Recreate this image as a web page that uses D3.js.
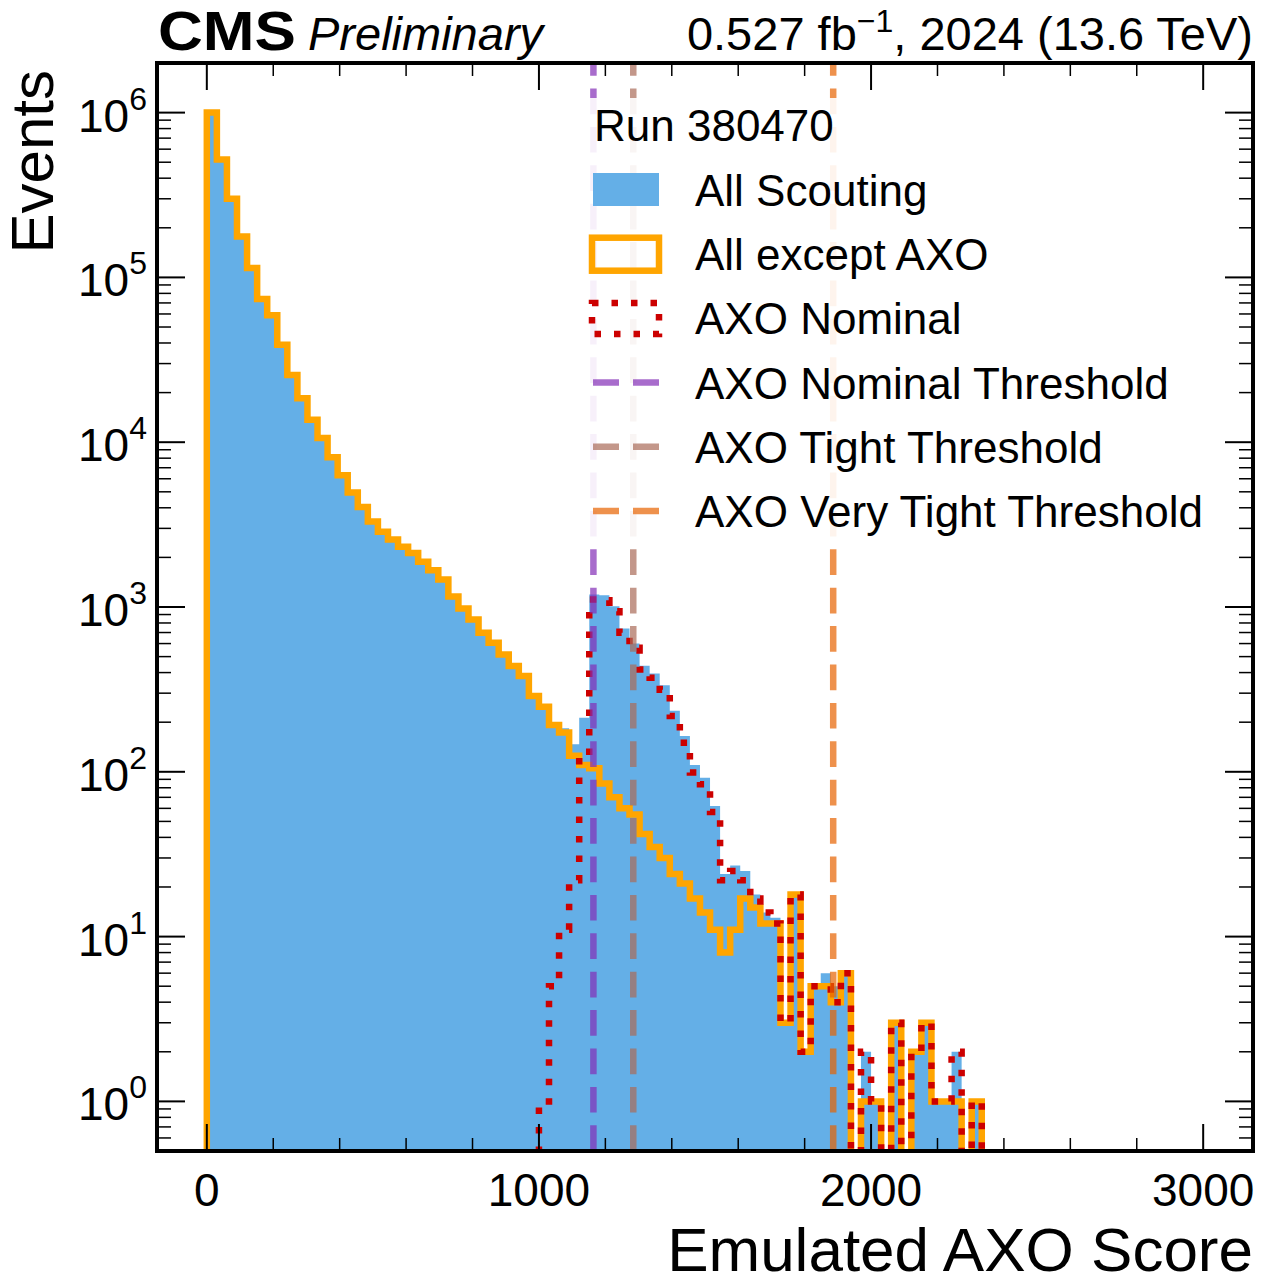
<!DOCTYPE html>
<html>
<head>
<meta charset="utf-8">
<script src="https://cdn.jsdelivr.net/npm/d3@7"></script>
<style>
  body { margin: 0; background: #fff; }
  text { font-family: "Liberation Sans", Arial, Helvetica, sans-serif; fill: #000; }
</style>
</head>
<body>
<svg id="chart" width="1264" height="1284"></svg>
<script>
// histogram binning: 99 equal bins on [0, 3000]
const binRange = [0, 3000];
const nBins = 99;

// counts per bin, starting at bin 0 (bins after the listed ones are empty)
const allExceptAXO = [
  1.0e6, 5.2e5, 3.0e5, 1.77e5, 1.14e5, 7.4e4, 5.9e4, 3.9e4, 2.56e4, 1.85e4,
  1.37e4, 1.06e4, 8100, 6300, 4960, 4050, 3300, 2860, 2570, 2320,
  2130, 1880, 1670, 1470, 1160, 980, 840, 698, 607, 515,
  438, 381, 288, 248, 192, 173, 125, 110, 105, 85,
  70, 60, 55, 42, 35, 30, 24, 21, 17, 14,
  11, 8, 11, 17, 15, 12, 12, 3, 18, 2,
  5, 5, 4, 6, 0, 1, 1, 0, 3, 0,
  2, 3, 1, 1, 1, 0, 1
];

const axoNominal = [
  0, 0, 0, 0, 0, 0, 0, 0, 0, 0,
  0, 0, 0, 0, 0, 0, 0, 0, 0, 0,
  0, 0, 0, 0, 0, 0, 0, 0, 0, 0,
  0, 0, 0, 1, 5, 11, 22, 125, 1110, 1100,
  943, 698, 566, 418, 372, 315, 218, 150, 99, 84,
  57, 22, 25, 22, 17, 14, 12, 3, 18, 2,
  5, 5, 4, 6, 0, 2, 1, 0, 3, 0,
  2, 3, 1, 1, 2, 0, 1
];

const allScouting = [
  1.0e6, 5.2e5, 3.0e5, 1.77e5, 1.14e5, 7.4e4, 5.9e4, 3.9e4, 2.56e4, 1.85e4,
  1.37e4, 1.06e4, 8100, 6300, 4960, 4050, 3300, 2860, 2570, 2320,
  2130, 1880, 1670, 1470, 1160, 980, 840, 698, 607, 515,
  438, 381, 288, 249, 197, 184, 147, 213, 1190, 1180,
  1010, 740, 600, 440, 395, 335, 235, 165, 110, 92,
  62, 24, 27, 25, 18, 14, 13, 3, 18, 2,
  5, 6, 5, 6, 0, 2, 1, 0, 3, 0,
  2, 3, 1, 1, 2, 0, 1
];

const thresholdNames = ['AXO Nominal Threshold', 'AXO Tight Threshold', 'AXO Very Tight Threshold'];
const thresholdValues = [1164, 1284, 1886];

const xMajorTicks = [0, 1000, 2000, 3000];
const yExponents = [0, 1, 2, 3, 4, 5, 6];
const runLabel = 'Run 380470';

// ---------------------------------------------------------------
const plotL = 157, plotR = 1253, plotT = 63, plotB = 1151;
const svg = d3.select('#chart');

const x = d3.scaleLinear().domain([-150, 3150]).range([plotL, plotR]);
const y = d3.scaleLog().domain([0.5, 2e6]).range([plotB, plotT]);

const edges = d3.range(nBins + 1).map(i => binRange[0] + (binRange[1] - binRange[0]) * i / nBins);

svg.append('defs').append('clipPath').attr('id', 'plotclip')
  .append('rect').attr('x', plotL).attr('y', plotT).attr('width', plotR - plotL).attr('height', plotB - plotT);

// step points for a histogram; empty bins drop below the frame
function stepPoints(counts) {
  const pts = [[edges[0], 0]];
  counts.forEach((v, i) => {
    pts.push([edges[i], v]);
    pts.push([edges[i + 1], v]);
  });
  pts.push([edges[counts.length], 0]);
  return pts;
}
const yv = v => v > 0 ? y(v) : plotB + 60;

const plot = svg.append('g').attr('clip-path', 'url(#plotclip)');

// All Scouting: filled
plot.append('path')
  .datum(stepPoints(allScouting))
  .attr('fill', '#64afe7')
  .attr('d', d3.area().x(d => x(d[0])).y0(plotB + 60).y1(d => yv(d[1])));

const stepLine = d3.line().x(d => x(d[0])).y(d => yv(d[1]));

// All except AXO: orange outline
plot.append('path')
  .datum(stepPoints(allExceptAXO))
  .attr('fill', 'none')
  .attr('stroke', '#ffa500')
  .attr('stroke-width', 6.5)
  .attr('stroke-linejoin', 'miter')
  .attr('d', stepLine);

// AXO Nominal: red dotted
plot.append('path')
  .datum(stepPoints(axoNominal))
  .attr('fill', 'none')
  .attr('stroke', '#cc0000')
  .attr('stroke-width', 6.5)
  .attr('stroke-dasharray', '6.5,13')
  .attr('d', stepLine);

// threshold lines
const thrColors = ['#832db6', '#a96b59', '#e76300'];
plot.selectAll('.thr')
  .data(thresholdValues)
  .enter().append('line')
  .attr('class', 'thr')
  .attr('x1', d => x(d)).attr('x2', d => x(d))
  .attr('y1', plotB).attr('y2', plotT)
  .attr('stroke', (d, i) => thrColors[i])
  .attr('stroke-opacity', 0.7)
  .attr('stroke-width', 6.5)
  .attr('stroke-dasharray', '25.7,12.7');

// ticks
const axes = svg.append('g').attr('stroke', '#000');
const xMinor = d3.range(200, 3001, 200).filter(v => !xMajorTicks.includes(v));
[plotB, plotT].forEach(edgeY => {
  const dir = edgeY === plotB ? -1 : 1;
  axes.selectAll(null).data(xMajorTicks).enter().append('line')
    .attr('x1', d => x(d)).attr('x2', d => x(d))
    .attr('y1', edgeY).attr('y2', edgeY + dir * 27).attr('stroke-width', 2);
  axes.selectAll(null).data(xMinor).enter().append('line')
    .attr('x1', d => x(d)).attr('x2', d => x(d))
    .attr('y1', edgeY).attr('y2', edgeY + dir * 13).attr('stroke-width', 1.5);
});
const yMinor = [];
[-1, 0, 1, 2, 3, 4, 5, 6].forEach(e => d3.range(2, 10).forEach(m => {
  const v = m * Math.pow(10, e);
  if (v >= 0.5 && v <= 2e6) yMinor.push(v);
}));
[plotL, plotR].forEach(edgeX => {
  const dir = edgeX === plotL ? 1 : -1;
  axes.selectAll(null).data(yExponents).enter().append('line')
    .attr('y1', d => y(Math.pow(10, d))).attr('y2', d => y(Math.pow(10, d)))
    .attr('x1', edgeX).attr('x2', edgeX + dir * 28).attr('stroke-width', 2);
  axes.selectAll(null).data(yMinor).enter().append('line')
    .attr('y1', d => y(d)).attr('y2', d => y(d))
    .attr('x1', edgeX).attr('x2', edgeX + dir * 14).attr('stroke-width', 1.5);
});

// frame
svg.append('rect')
  .attr('x', plotL).attr('y', plotT).attr('width', plotR - plotL).attr('height', plotB - plotT)
  .attr('fill', 'none').attr('stroke', '#000').attr('stroke-width', 4);

// tick labels
svg.selectAll('.xlab').data(xMajorTicks).enter().append('text')
  .attr('class', 'xlab')
  .attr('x', d => x(d)).attr('y', 1206)
  .attr('text-anchor', 'middle').attr('font-size', 46)
  .text(d => d);

const ylab = svg.selectAll('.ylab').data(yExponents).enter().append('text')
  .attr('class', 'ylab')
  .attr('x', 147).attr('y', d => y(Math.pow(10, d)) + 19)
  .attr('text-anchor', 'end');
ylab.append('tspan').attr('font-size', 46).text('10');
ylab.append('tspan').attr('font-size', 32).attr('dy', -22).text(d => d);

// axis titles
svg.append('text')
  .attr('transform', 'translate(53,70) rotate(-90)')
  .attr('text-anchor', 'end').attr('font-size', 60)
  .text('Events');
svg.append('text')
  .attr('x', plotR).attr('y', 1271)
  .attr('text-anchor', 'end').attr('font-size', 62)
  .text('Emulated AXO Score');

// header
svg.append('text').attr('x', 158).attr('y', 50)
  .attr('font-size', 56).attr('font-weight', 'bold')
  .attr('textLength', 138).attr('lengthAdjust', 'spacingAndGlyphs')
  .text('CMS');
svg.append('text').attr('x', 308).attr('y', 50)
  .attr('font-size', 47).attr('font-style', 'italic').text('Preliminary');
const lumi = svg.append('text').attr('x', plotR).attr('y', 50)
  .attr('text-anchor', 'end').attr('font-size', 47);
lumi.append('tspan').text('0.527 fb');
lumi.append('tspan').attr('font-size', 32).attr('dy', -18).text('\u22121');
lumi.append('tspan').attr('dy', 18).text(', 2024 (13.6 TeV)');

// legend
const lg = svg.append('g');
lg.append('rect').attr('x', 583).attr('y', 98).attr('width', 636).attr('height', 444)
  .attr('fill', '#fff').attr('fill-opacity', 0.9);
lg.append('text').attr('x', 594).attr('y', 141).attr('font-size', 44).text(runLabel);

const legendNames = ['All Scouting', 'All except AXO', 'AXO Nominal'].concat(thresholdNames);
const rowY = i => 190 + i * 64.2;
legendNames.forEach((name, i) => {
  lg.append('text').attr('x', 695).attr('y', rowY(i) + 16).attr('font-size', 44).text(name);
});
lg.append('rect').attr('x', 593).attr('y', rowY(0) - 17).attr('width', 66).attr('height', 33)
  .attr('fill', '#64afe7');
lg.append('rect').attr('x', 592).attr('y', rowY(1) - 16.5).attr('width', 67).attr('height', 33)
  .attr('fill', 'none').attr('stroke', '#ffa500').attr('stroke-width', 6.5);
lg.append('rect').attr('x', 592).attr('y', rowY(2) - 15.5).attr('width', 67).attr('height', 31)
  .attr('fill', 'none').attr('stroke', '#cc0000').attr('stroke-width', 6.5)
  .attr('stroke-dasharray', '6.5,13');
thrColors.forEach((c, i) => {
  lg.append('line').attr('x1', 593).attr('x2', 659)
    .attr('y1', rowY(3 + i)).attr('y2', rowY(3 + i))
    .attr('stroke', c).attr('stroke-opacity', 0.7).attr('stroke-width', 6.5)
    .attr('stroke-dasharray', '26,14');
});
</script>
</body>
</html>
